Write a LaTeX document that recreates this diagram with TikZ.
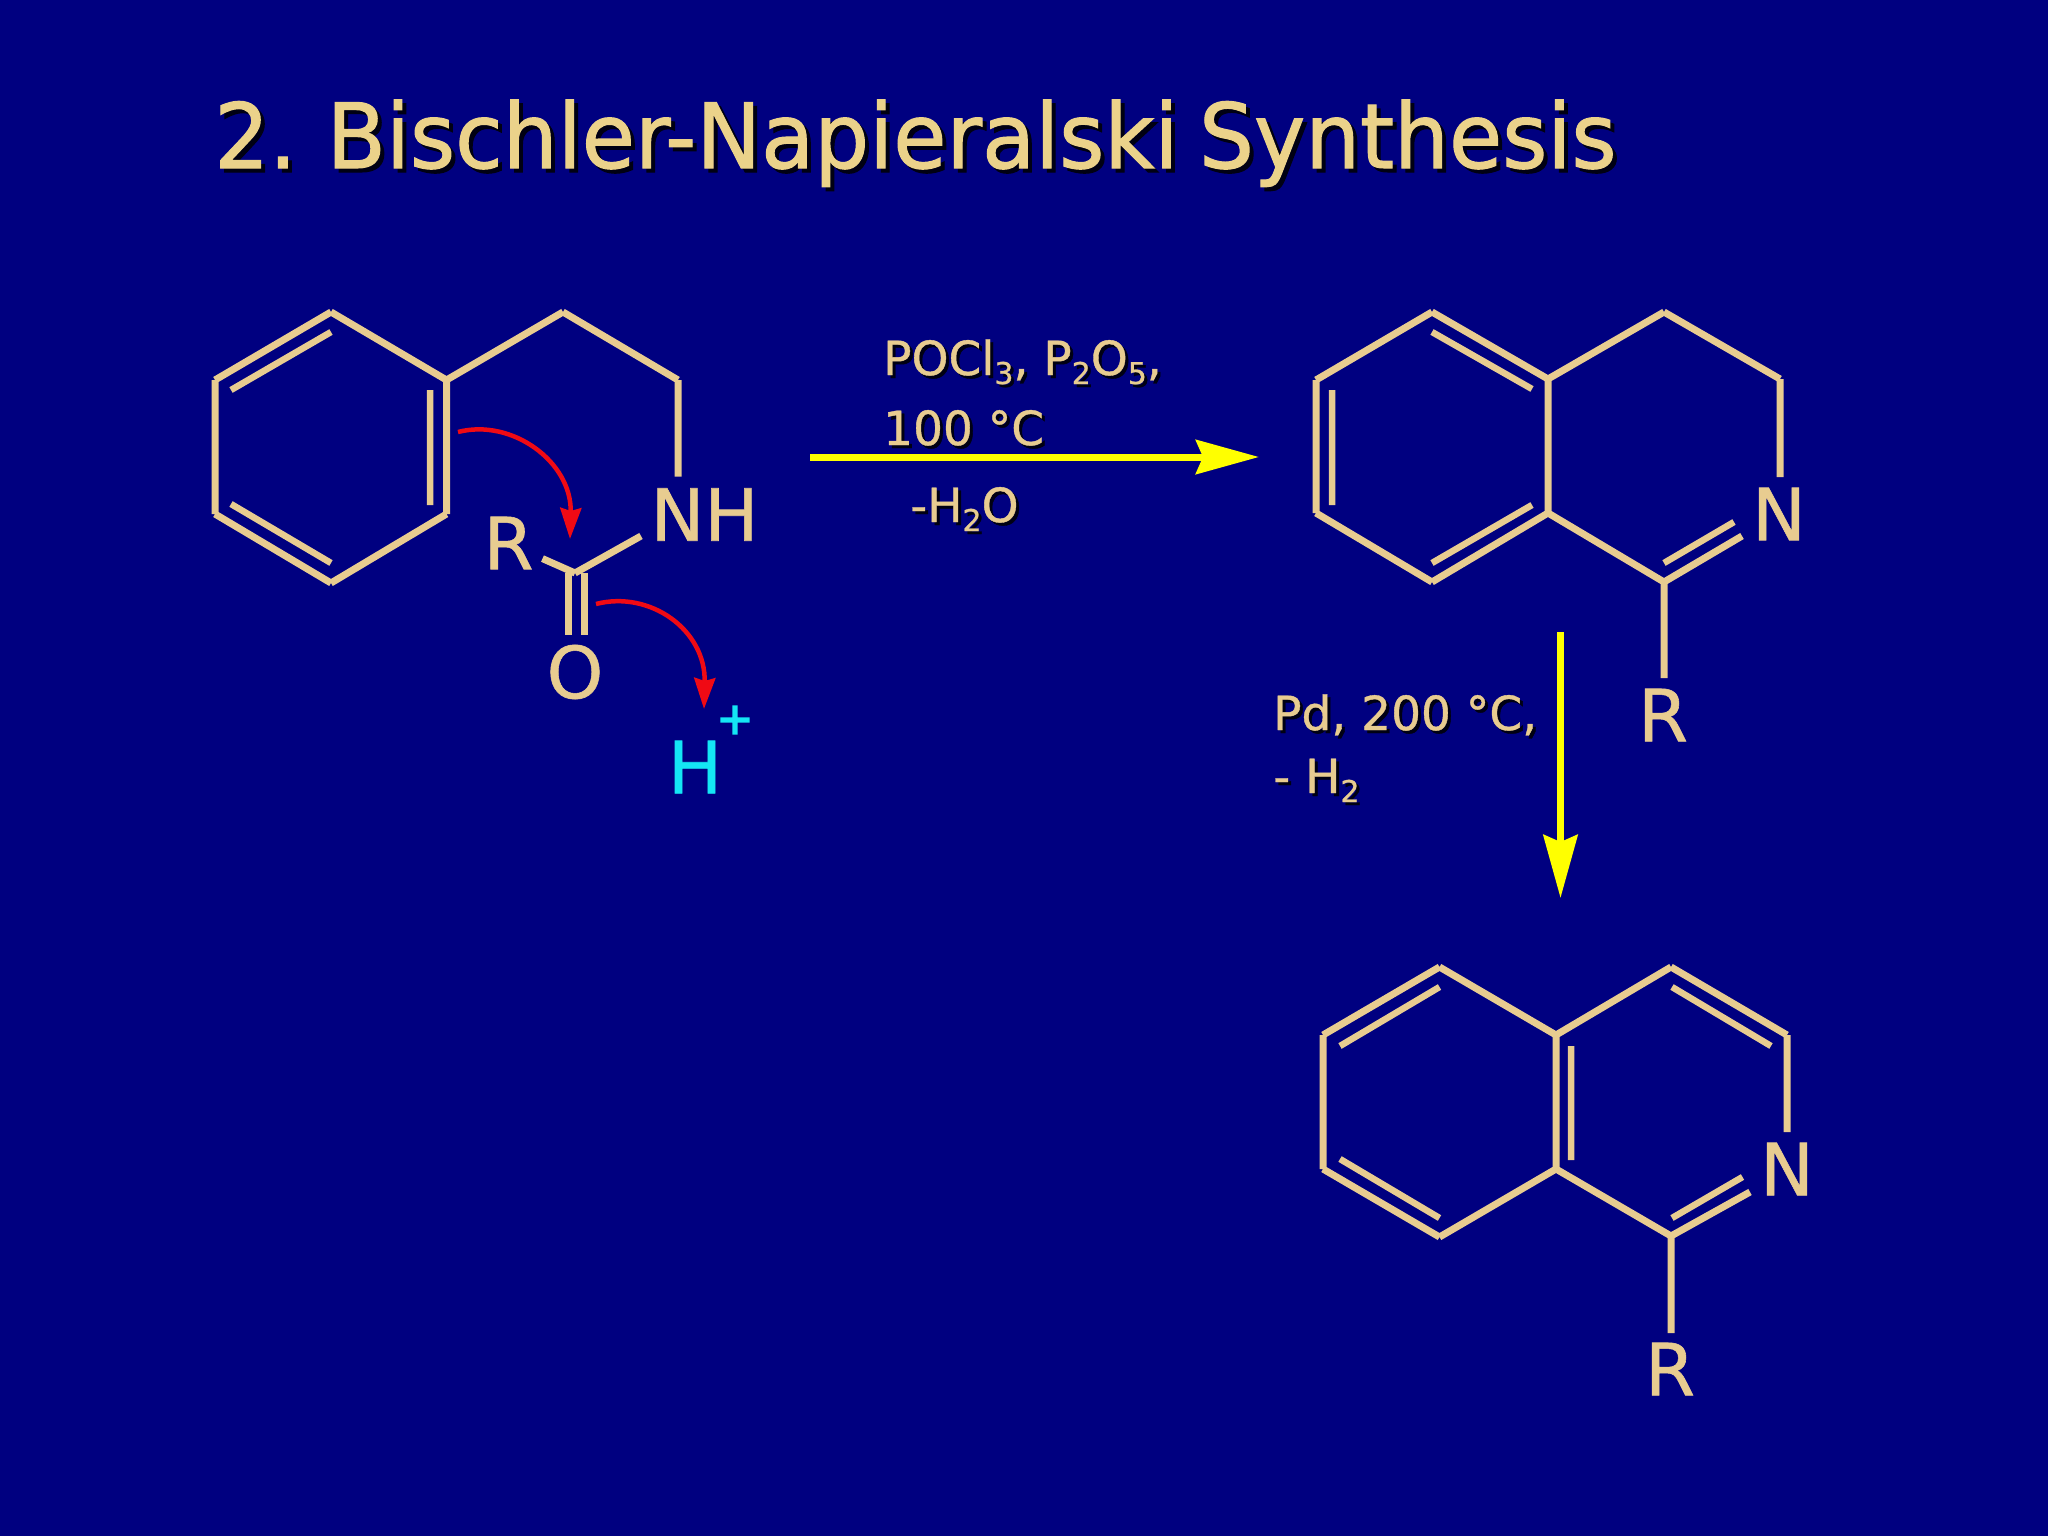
\documentclass[tikz,border=0pt]{standalone}
\usepackage{fontspec}
\setmainfont{DejaVu Sans}[FakeBold=0.8]
\newfontfamily\titlefont{DejaVu Sans}[FakeStretch=0.962,FakeBold=1.2,WordSpace=0.75]
\newfontfamily\plusfont{DejaVu Sans}[FakeBold=4]
\usetikzlibrary{arrows.meta,calc}
\definecolor{bg}{HTML}{000080}
\definecolor{tan}{HTML}{E8CC90}
\definecolor{ttl}{HTML}{EBD28A}
\definecolor{arr}{HTML}{FFFF00}
\definecolor{cy}{HTML}{14E6F5}
\definecolor{rd}{HTML}{F00A14}
\tikzset{
  bond/.style={draw=tan,line width=7pt,line cap=butt},
  inbond/.style={draw=tan,line width=6.5pt,line cap=butt},
  rxn/.style={draw=arr,line width=7pt,-{Stealth[length=63pt,width=34pt,inset=7pt]}},
  push/.style={draw=rd,line width=4.5pt,-{Stealth[length=31pt,width=21pt,inset=3pt]}},
  lab/.style={inner sep=0pt,text=tan},
  cond/.style={inner sep=0pt,anchor=base west,text=tan},
  shad/.style={inner sep=0pt,anchor=base west,text=black!85!bg}
}
\newcommand{\fs}[1]{\fontsize{#1}{#1}\selectfont}
\newcommand{\sbs}[1]{\raisebox{-9pt}{\fs{30}#1}}
\newcommand{\condlabel}[3]{%
  \node[shad] (#1s) at ($(#2)+(3,3)$) {\fs{47}#3};
  \node[cond] (#1) at (#2) {\fs{47}#3};}
\begin{document}
\begin{tikzpicture}[x=1pt,y=-1pt]
\useasboundingbox (0,0) rectangle (2048,1536);
\fill[bg] (0,0) rectangle (2048,1536);
% title
\node[shad] (titles) at (218,172) {\titlefont\fs{90}2. Bischler-Napieralski Synthesis};
\node[cond,text=ttl] (title) at (214,168) {\titlefont\fs{90}2. Bischler-Napieralski Synthesis};
% compound 1
\coordinate (a1) at (331,312); \coordinate (a2) at (446.5,380); \coordinate (a3) at (446.5,514);
\coordinate (a4) at (331,583); \coordinate (a5) at (215,514); \coordinate (a6) at (215,380);
\coordinate (a7) at (563,312); \coordinate (a8) at (678,380); \coordinate (a9) at (678,476.5);
\coordinate (ac) at (575,573); \coordinate (ar) at (542.5,558.6); \coordinate (an) at (641,536);
\draw[bond] (a1)--(a2) (a2)--(a3) (a3)--(a4) (a4)--(a5) (a5)--(a6) (a6)--(a1) (a2)--(a7) (a7)--(a8) (a8)--(a9) (ar)--(ac) (ac)--(an);
\draw[inbond] (331,332)--(231,390) (430,390)--(430,505) (231,504)--(331,563);
\draw[bond] (568,573)--(568,635) (584,573)--(584,635);
\node[lab] (nh) at (704.5,514.5) {\fs{72}NH};
\node[lab] (r1) at (508.6,543) {\fs{72}R};
\node[lab] (o1) at (575,672) {\fs{72}O};
\node[lab,text=cy] (hh) at (695,767) {\fs{72}H};
\node[lab,text=cy] (hp) at (735,720) {\plusfont\fs{44}+};
% electron pushing arrows
\coordinate (p1) at (458,432); \coordinate (p2) at (570,539);
\coordinate (p3) at (596,604); \coordinate (p4) at (704,709);
\draw[push] (p1) .. controls (512,418) and (572,462) .. (p2);
\draw[push] (p3) .. controls (650,590) and (706,630) .. (p4);
% reaction 1
\coordinate (r1a) at (810,457); \coordinate (r1b) at (1259,457);
\draw[rxn] (r1a)--(r1b);
\condlabel{c1}{883,375}{POCl\sbs{3}, P\sbs{2}O\sbs{5},}
\condlabel{c2}{883,445}{100 °C}
\condlabel{c3}{910,522}{-H\sbs{2}O}
% compound 2
\coordinate (b1) at (1432,312); \coordinate (b2) at (1548,379); \coordinate (b3) at (1548,513);
\coordinate (b4) at (1432,582); \coordinate (b5) at (1316,513); \coordinate (b6) at (1316,380);
\coordinate (b7) at (1664,312); \coordinate (b8) at (1780,379); \coordinate (b9) at (1780,477);
\coordinate (bc) at (1664,582); \coordinate (bn) at (1742,536); \coordinate (br) at (1664,678);
\draw[bond] (b1)--(b2) (b2)--(b3) (b3)--(b4) (b4)--(b5) (b5)--(b6) (b6)--(b1) (b2)--(b7) (b7)--(b8) (b8)--(b9) (b3)--(bc) (bc)--(bn) (bc)--(br);
\draw[inbond] (1432,332)--(1532,389) (1332,390)--(1332,505) (1432,563)--(1532,505) (1664,563)--(1734,522);
\node[lab] (n2) at (1779,514) {\fs{72}N};
\node[lab] (r2) at (1663,715) {\fs{72}R};
% reaction 2
\coordinate (r2a) at (1560.5,632); \coordinate (r2b) at (1560.5,898);
\draw[rxn] (r2a)--(r2b);
\condlabel{c4}{1273,730}{Pd, 200 °C,}
\condlabel{c5}{1273,793}{- H\sbs{2}}
% compound 3
\coordinate (d1) at (1439.5,967); \coordinate (d2) at (1556,1035); \coordinate (d3) at (1556,1169);
\coordinate (d4) at (1439.5,1237); \coordinate (d5) at (1323,1169); \coordinate (d6) at (1323,1035);
\coordinate (d7) at (1671,967); \coordinate (d8) at (1787,1035); \coordinate (d9) at (1787,1132);
\coordinate (dc) at (1671,1236); \coordinate (dn) at (1750,1192); \coordinate (dr) at (1671,1333);
\draw[bond] (d1)--(d2) (d2)--(d3) (d3)--(d4) (d4)--(d5) (d5)--(d6) (d6)--(d1) (d2)--(d7) (d7)--(d8) (d8)--(d9) (d3)--(dc) (dc)--(dn) (dc)--(dr);
\draw[inbond] (1439.5,987)--(1340,1046) (1571,1046)--(1571,1160) (1672,987)--(1771,1046) (1340,1159)--(1439.5,1218) (1672,1218)--(1742.5,1177);
\node[lab] (n3) at (1787,1169) {\fs{72}N};
\node[lab] (r3) at (1670,1369) {\fs{72}R};
\end{tikzpicture}
\end{document}
